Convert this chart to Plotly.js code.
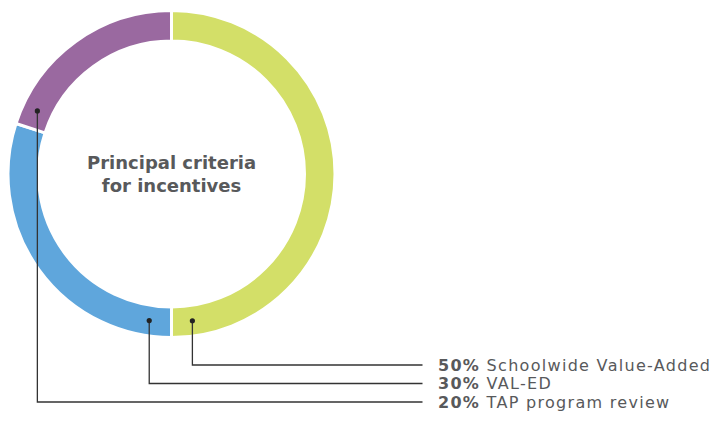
<!DOCTYPE html>
<html><head><meta charset="utf-8">
<script src="https://cdn.plot.ly/plotly-3.0.1.min.js"></script>
<style>html,body{margin:0;padding:0;background:#fff}#chart{width:720px;height:424px}
.annotation[data-index="0"] text,.annotation[data-index="1"] text,.annotation[data-index="2"] text{letter-spacing:1.3px}
</style>
</head><body><div id="chart"></div>
<script>
const categories = ["Schoolwide Value-Added", "VAL-ED", "TAP program review"];
const values = [50, 30, 20];
const colors = ["#d3df68", "#5fa6dc", "#9a69a0"];
const centerTitle = "Principal criteria<br>for incentives";
// where along each slice the leader dot sits (fraction of slice from its start, clockwise)
const dotFraction = [0.955, 0.08, 0.1];
const labelRowsPx = [365, 383.5, 402];

const W = 720, H = 424;
const cx = 171.5, cy = 174, rOut = 163.5, rIn = 133;
const domX = [(cx - rOut) / W, (cx + rOut) / W];
const domY = [1 - (cy + rOut) / H, 1 - (cy - rOut) / H];
const FONT = "'DejaVu Sans', Roboto, sans-serif";

const trace = {
  type: "pie", labels: categories, values: values, sort: false,
  direction: "clockwise", rotation: 0, hole: rIn / rOut,
  marker: {colors: colors, line: {color: "#ffffff", width: 3}},
  textinfo: "none", hoverinfo: "label+percent", showlegend: false,
  domain: {x: domX, y: domY}
};

const total = values.reduce((a, b) => a + b, 0);
const shapes = [], annotations = [];
let cum = 0;
const rMid = (rIn + rOut) / 2;
const lineEnd = 422.5;
values.forEach((v, i) => {
  const ang = (cum + v * dotFraction[i]) / total * 2 * Math.PI;
  cum += v;
  const px = cx + rMid * Math.sin(ang);
  const py = cy - rMid * Math.cos(ang);
  const ly = labelRowsPx[i];
  const X = p => p / W, Y = p => 1 - p / H;
  shapes.push({type: "path", xref: "paper", yref: "paper",
    path: `M ${X(px)} ${Y(py)} L ${X(px)} ${Y(ly)} L ${X(lineEnd)} ${Y(ly)}`,
    line: {color: "#333333", width: 1.3}});
  shapes.push({type: "circle", xref: "paper", yref: "paper",
    x0: X(px - 2.6), x1: X(px + 2.6), y0: Y(py + 2.6), y1: Y(py - 2.6),
    fillcolor: "#222222", line: {width: 0}});
  annotations.push({xref: "paper", yref: "paper", x: X(436), y: Y(ly),
    xanchor: "left", yanchor: "middle", showarrow: false, height: 17, width: 282, align: "left",
    text: `<b>${v}%</b> ${categories[i]}`,
    font: {family: FONT, size: 16, color: "#58595b"}});
});
annotations.push({xref: "paper", yref: "paper", x: cx / W, y: 1 - 174 / H,
  xanchor: "center", yanchor: "middle", showarrow: false, text: "<b>" + centerTitle + "</b>",
  font: {family: FONT, size: 18, color: "#58595b"}});

Plotly.newPlot("chart", [trace], {
  width: W, height: H, margin: {l: 0, r: 0, t: 0, b: 0},
  paper_bgcolor: "#ffffff", plot_bgcolor: "#ffffff",
  shapes: shapes, annotations: annotations
}, {displayModeBar: false, staticPlot: true});
</script></body></html>
